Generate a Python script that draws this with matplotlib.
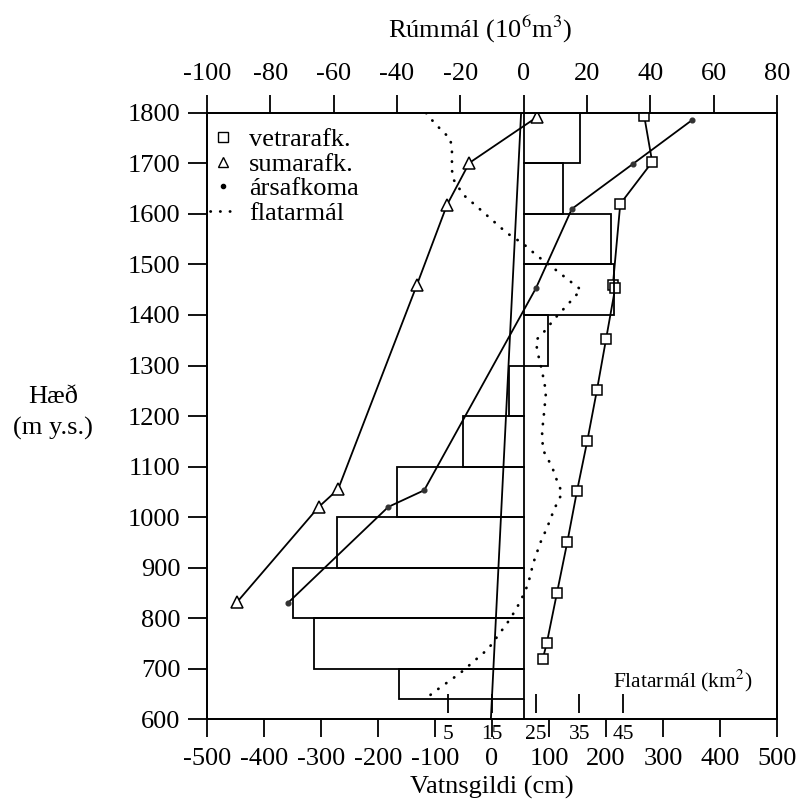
import matplotlib
matplotlib.use("Agg")
import matplotlib.pyplot as plt
from matplotlib.lines import Line2D
import numpy as np

plt.rcParams['font.family'] = ['Liberation Serif', 'DejaVu Serif']
plt.rcParams['mathtext.fontset'] = 'stix'

# --- Volume per elevation band (10^6 m^3), top axis ---
band_bottom = [1700, 1600, 1500, 1400, 1300, 1200, 1100, 1000, 900, 800, 700, 640, 600]
band_top = [1800, 1700, 1600, 1500, 1400, 1300, 1200, 1100, 1000, 900, 800, 700, 640]
band_volume = [17.8, 12.4, 27.6, 28.5, 7.7, -4.6, -19.2, -40.0, -59.0, -72.9, -66.3, -39.4, 0.0]

# --- Winter balance (cm water equivalent) ---
winter_h = [1794, 1703, 1620, 1459, 1453, 1352, 1251, 1150, 1051, 950, 850, 750, 719]
winter_cm = [267, 281, 225, 212, 216, 200, 184, 167, 149, 132, 114, 96, 89]

# --- Summer balance (cm water equivalent) ---
summer_h = [1792, 1701, 1618, 1459, 1055, 1020, 832]
summer_cm = [79, -40, -79, -132, -270, -304, -447]

# --- Net annual balance (cm water equivalent) ---
net_h = [1786, 1699, 1610, 1453, 1053, 1020, 830]
net_cm = [351, 247, 140, 77, -119, -182, -358]

# --- Area-elevation distribution (km^2) ---
area_h = [1800, 1790, 1762, 1750, 1727, 1687, 1669, 1638, 1614, 1588, 1562, 1541,
          1517, 1495, 1473, 1450, 1422, 1394, 1364, 1350, 1329, 1289, 1248, 1210,
          1168, 1133, 1099, 1065, 1048, 1016, 980, 949, 909, 867, 832, 798, 766,
          739, 715, 691, 671, 651, 640]
area_km2 = [0.0, 0.9, 3.9, 5.5, 5.9, 5.9, 6.2, 8.5, 11.7, 15.1, 18.5, 22.2,
            25.4, 28.8, 32.0, 35.4, 32.5, 29.5, 26.7, 25.1, 25.4, 26.5, 27.4, 27.0,
            26.5, 26.7, 28.8, 30.2, 31.1, 29.3, 27.7, 26.1, 24.5, 23.3, 21.5, 19.2, 16.5,
            14.2, 11.0, 7.8, 4.6, 1.4, 0.0]

# --- Reference line (cm) ---
ref_h = [1800, 600]
ref_cm = [51, -2]

# Axis ticks
cm_ticks = [-500, -400, -300, -200, -100, 0, 100, 200, 300, 400, 500]
vol_ticks = [-100, -80, -60, -40, -20, 0, 20, 40, 60, 80]
h_ticks = [600, 700, 800, 900, 1000, 1100, 1200, 1300, 1400, 1500, 1600, 1700, 1800]
area_ticks = [5, 15, 25, 35, 45]

# Linear relation between area (km^2) and the cm axis used for the inner scale
AREA_ZERO_CM = -115.6
CM_PER_KM2 = 7.675


def km2_to_cm(a):
    return np.asarray(a, dtype=float) * CM_PER_KM2 + AREA_ZERO_CM


def cm_to_km2(c):
    return (np.asarray(c, dtype=float) - AREA_ZERO_CM) / CM_PER_KM2


LW = 1.3
FS = 19
FS_SMALL = 15.5

fig = plt.figure(figsize=(7.99, 8.07), dpi=100)
ax = fig.add_axes([0.2591, 0.1090, 0.7134, 0.7510])
ax.set_xlim(-500, 500)
ax.set_ylim(600, 1800)

ax_top = ax.twiny()
ax_top.set_xlim(-100, 80)

# Volume bars on the top scale
heights = np.array(band_top) - np.array(band_bottom)
ax_top.barh(band_bottom, band_volume, height=heights, align='edge',
            facecolor='none', edgecolor='black', linewidth=LW, zorder=2)

# Reference line
ax.plot(ref_cm, ref_h, color='black', lw=LW, zorder=3)

# Area-elevation curve
ax.plot(km2_to_cm(area_km2), area_h, color='black', lw=2.0,
        linestyle=(0, (0.1, 3.4)), dash_capstyle='round', zorder=3)

# Balance profiles
ax.plot(winter_cm, winter_h, color='black', lw=LW, marker='s', ms=7.5,
        mfc='white', mec='black', mew=1.1, zorder=4)
ax.plot(summer_cm, summer_h, color='black', lw=LW, marker='^', ms=8,
        mfc='white', mec='black', mew=1.1, zorder=4)
ax.plot(net_cm, net_h, color='black', lw=LW, marker='o', ms=3.4,
        mfc='#333333', mec='#333333', zorder=4)

# Main axes styling
for sp in ax.spines.values():
    sp.set_linewidth(LW)
for sp in ax_top.spines.values():
    sp.set_linewidth(LW)

ax.set_xticks(cm_ticks)
ax.set_xticklabels([str(t) for t in cm_ticks])
ax.set_yticks(h_ticks)
ax.set_yticklabels([str(t) for t in h_ticks])
ax.tick_params(axis='x', direction='out', length=13, width=LW, pad=8, labelsize=FS)
ax.tick_params(axis='y', direction='out', length=14, width=LW, pad=5, labelsize=FS)

ax_top.set_xticks(vol_ticks)
ax_top.set_xticklabels([str(t) for t in vol_ticks])
ax_top.tick_params(axis='x', direction='out', length=13, width=LW, pad=7, labelsize=FS)

ax.set_xlabel('Vatnsgildi (cm)', fontsize=FS, labelpad=4)
ax_top.set_xlabel('Rúmmál (10$^6$m$^3$)', fontsize=FS)
ax_top.xaxis.set_label_coords(0.48, 1.124)
ax.set_ylabel('Hæð\n(m y.s.)', fontsize=FS, rotation=0, linespacing=1.45)
ax.yaxis.set_label_coords(-0.27, 0.505)
ax.yaxis.label.set_verticalalignment('center')

# Inner area scale near the bottom of the plot
sec = ax.secondary_xaxis(0.01, functions=(cm_to_km2, km2_to_cm))
sec.set_xticks(area_ticks)
sec.set_xticklabels([str(t) for t in area_ticks])
sec.spines['bottom'].set_visible(False)
sec.tick_params(axis='x', direction='in', length=13.5, width=LW, pad=9, labelsize=FS_SMALL)
ax.text(0.834, 0.063, 'Flatarmál (km$^2$)', transform=ax.transAxes,
        fontsize=FS_SMALL, ha='center', va='center')

# Legend
handles = [
    Line2D([], [], linestyle='none', marker='s', ms=7, mfc='white', mec='black', mew=1.0),
    Line2D([], [], linestyle='none', marker='^', ms=7.5, mfc='white', mec='black', mew=1.0),
    Line2D([], [], linestyle='none', marker='o', ms=3, mfc='black', mec='black'),
    Line2D([], [], color='black', lw=2.0, linestyle=(0, (0.1, 3.4)), dash_capstyle='round'),
]
labels = ['vetrarafk.', 'sumarafk.', 'ársafkoma', 'flatarmál']
leg = ax.legend(handles, labels, loc='upper left', bbox_to_anchor=(-0.004, 0.984),
                frameon=False, fontsize=FS, handlelength=1.0, handletextpad=0.47,
                labelspacing=0.04, borderaxespad=0.0, borderpad=0.2)
leg.set_zorder(5)

fig.savefig('out.png', dpi=100)
